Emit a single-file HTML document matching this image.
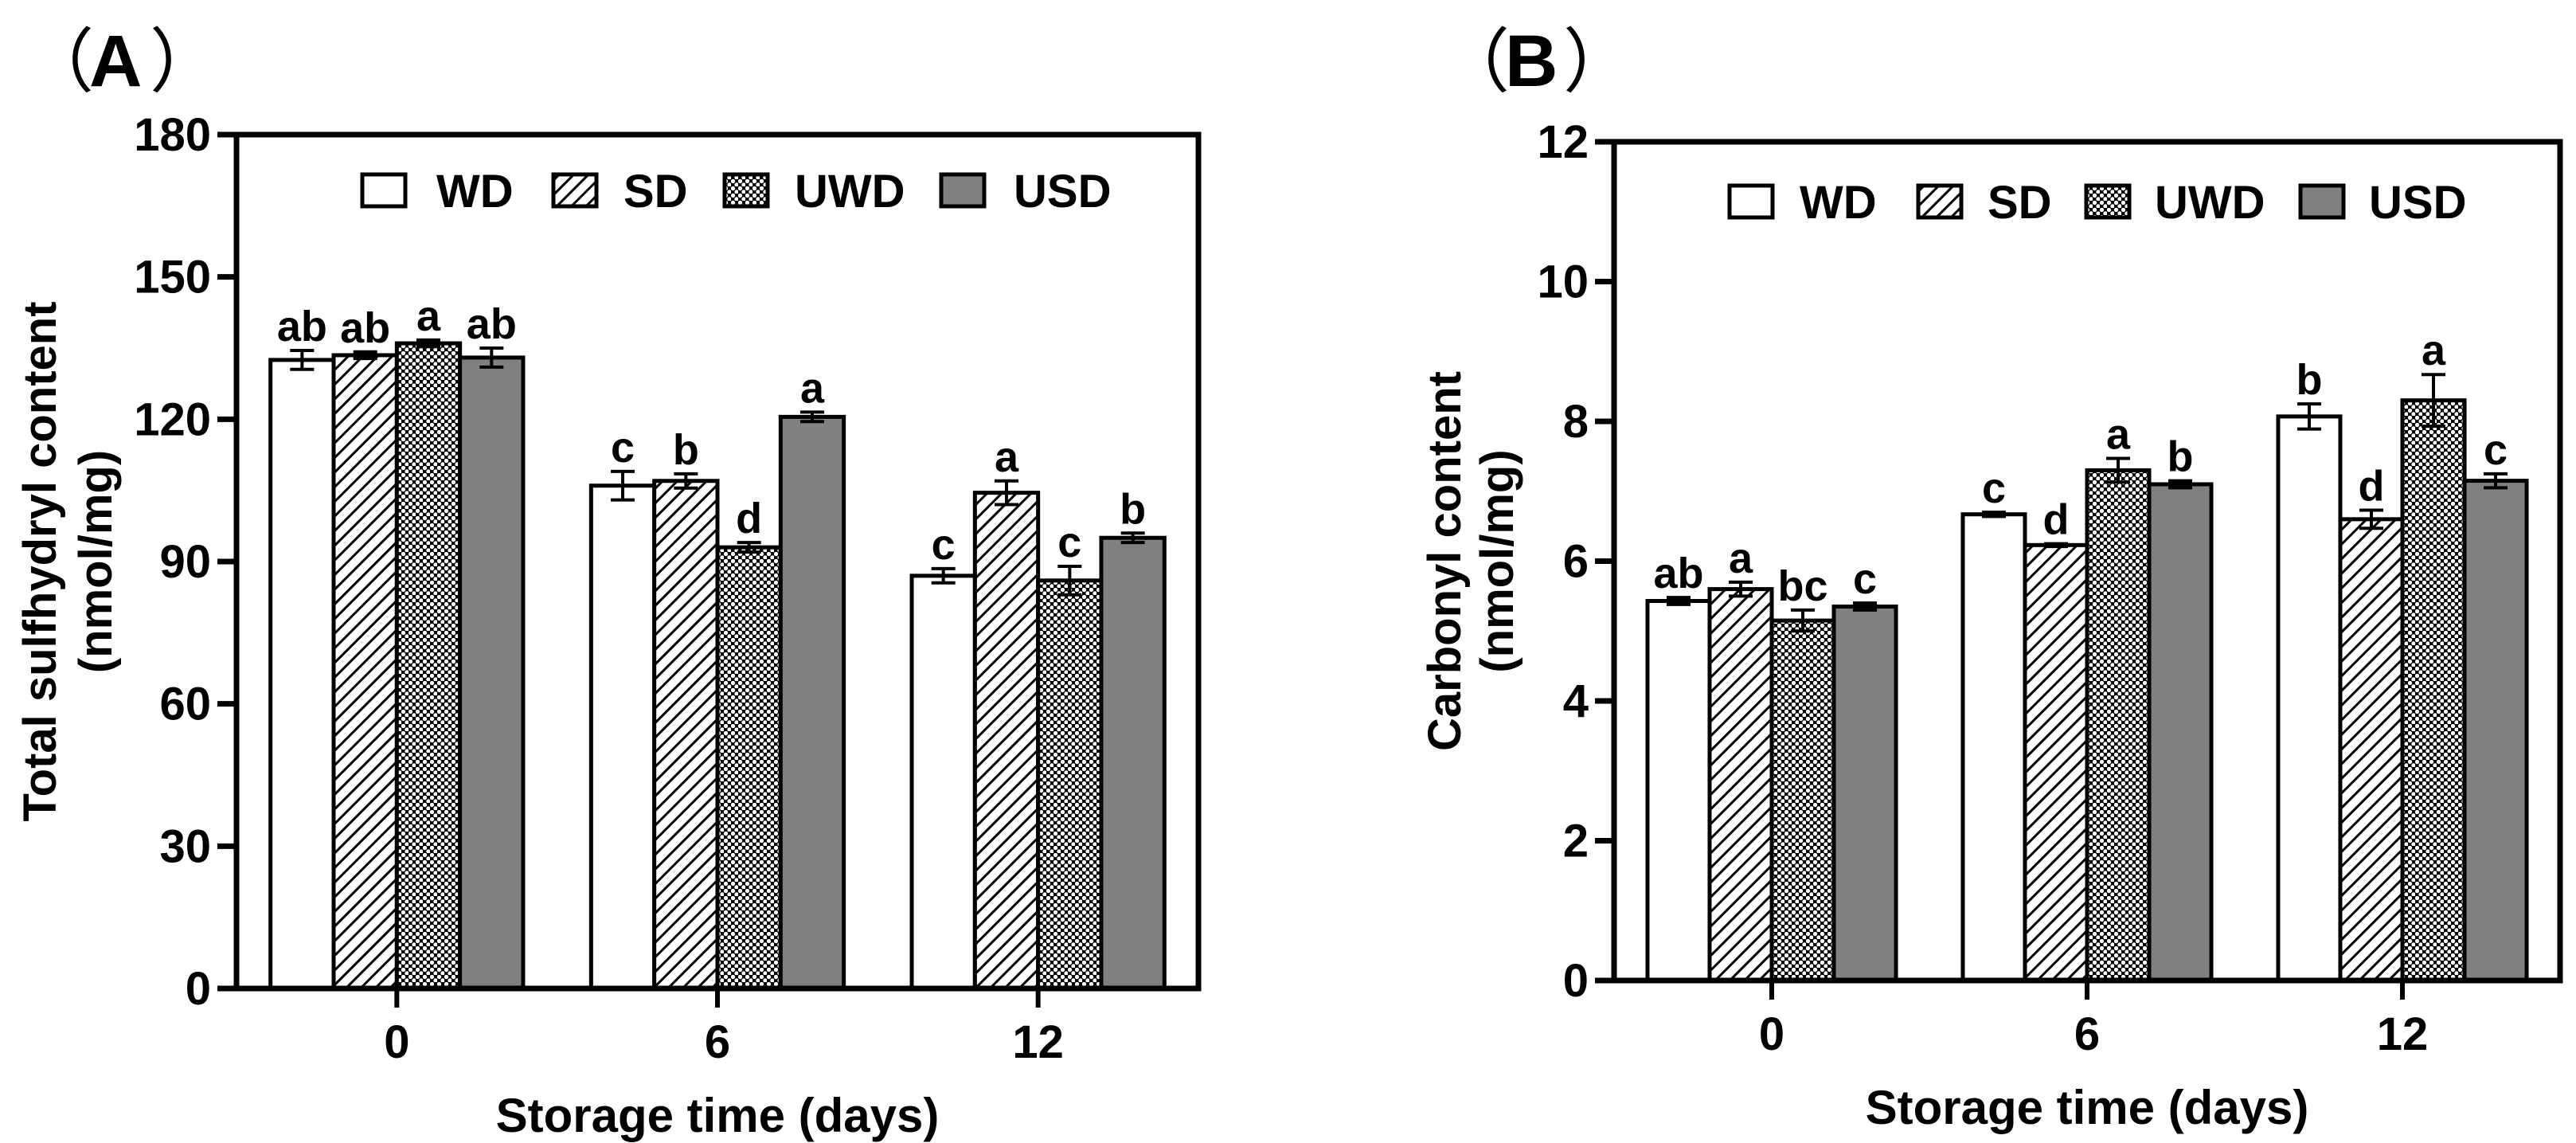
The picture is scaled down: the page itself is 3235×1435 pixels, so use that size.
<!DOCTYPE html>
<html><head><meta charset="utf-8"><style>
html,body{margin:0;padding:0;background:#fff;}
svg{display:block;}
text{font-family:"Liberation Sans",Arial,sans-serif;font-weight:bold;fill:#000;}
</style></head><body>
<svg id="fig" width="3235" height="1435" viewBox="0 0 3235 1435" xmlns="http://www.w3.org/2000/svg">
<defs>
<pattern id="hatch" patternUnits="userSpaceOnUse" width="13" height="13" patternTransform="rotate(45)">
<rect width="13" height="13" fill="#fff"/><rect x="0" y="0" width="3" height="13" fill="#000"/>
</pattern>
<pattern id="dots" patternUnits="userSpaceOnUse" width="9" height="9">
<rect width="9" height="9" fill="#000"/><circle cx="2.5" cy="2.5" r="2.7" fill="#fff"/><circle cx="7" cy="7" r="2.7" fill="#fff"/>
</pattern>
</defs>
<text x="30" y="108" font-size="88" style="font-weight:normal" font-family="Noto Sans CJK SC">（</text>
<text x="112" y="108" font-size="92">A</text>
<text x="188" y="108" font-size="88" style="font-weight:normal" font-family="Noto Sans CJK SC">）</text>
<text x="1808" y="108" font-size="88" style="font-weight:normal" font-family="Noto Sans CJK SC">（</text>
<text x="1890" y="108" font-size="92">B</text>
<text x="1963" y="108" font-size="88" style="font-weight:normal" font-family="Noto Sans CJK SC">）</text>
<g id="pa"></g>
<g id="pb"></g>
</svg>
<script>
const categories = ["0","6","12"];
const seriesNames = ["WD","SD","UWD","USD"];
const aTicks = [0,30,60,90,120,150,180];
const aWD = [132.5,106,87];
const aSD = [133.5,107,104.5];
const aUWD = [136,93,86];
const aUSD = [133,120.5,95];
const aErrWD = [2,3,1.5];
const aErrSD = [0.7,1.5,2.5];
const aErrUWD = [0.7,1,3];
const aErrUSD = [2,1,1];
const aLetWD = ["ab","c","c"];
const aLetSD = ["ab","b","a"];
const aLetUWD = ["a","d","c"];
const aLetUSD = ["ab","a","b"];
const bTicks = [0,2,4,6,8,10,12];
const bWD = [5.43,6.67,8.07];
const bSD = [5.6,6.23,6.6];
const bUWD = [5.15,7.3,8.3];
const bUSD = [5.35,7.1,7.15];
const bErrWD = [0.05,0.03,0.18];
const bErrSD = [0.1,0.02,0.13];
const bErrUWD = [0.15,0.17,0.37];
const bErrUSD = [0.05,0.05,0.1];
const bLetWD = ["ab","c","b"];
const bLetSD = ["a","d","d"];
const bLetUWD = ["bc","a","a"];
const bLetUSD = ["c","b","c"];

const NS="http://www.w3.org/2000/svg";
const fills=["#fff","url(#hatch)","url(#dots)","#808080"];
function mk(tag,attrs,parent){const e=document.createElementNS(NS,tag);for(const k in attrs)e.setAttribute(k,attrs[k]);parent.appendChild(e);return e;}

function draw(g,cfg){
  const {L,R,T,B,max,ticks,vals,errs,lets,title1,title2,t1x,t2x,legBoxes,legTexts,legY}=cfg;
  const y=v=>B-(v/max)*(B-T);
  const cw=(R-L)/categories.length;
  const x=i=>L+cw*(i+0.5);
  const bw=cw*0.197;
  for(let s=0;s<4;s++){
    for(let i=0;i<categories.length;i++){
      const v=vals[s][i];
      const bx=x(i)-2*bw+s*bw;
      const r=mk('rect',{x:bx,y:y(v),width:bw,height:B-y(v),fill:fills[s],stroke:'#000','stroke-width':5},g);
      
      
      const cx=bx+bw/2, e=errs[s][i];
      const eb=mk('path',{d:`M${cx},${y(v-e)}V${y(v+e)}M${cx-15},${y(v+e)}H${cx+15}M${cx-15},${y(v-e)}H${cx+15}`,stroke:'#000','stroke-width':4,fill:'none'},g);
      
      
      const t=mk('text',{x:cx,y:y(v+e)-12,'font-size':54,'text-anchor':'middle'},g);
      t.textContent=lets[s][i];
      
      
    }
  }
  const fr=mk('rect',{x:L,y:T,width:R-L,height:B-T,fill:'none',stroke:'#000','stroke-width':7},g);
  
  
  ticks.forEach(tv=>{
    mk('line',{x1:L-24,x2:L,y1:y(tv),y2:y(tv),stroke:'#000','stroke-width':7},g);
    const t=mk('text',{x:L-32,y:y(tv)+20,'font-size':58,'text-anchor':'end'},g);
    t.textContent=tv;
    
    
  });
  categories.forEach((c,i)=>{
    mk('line',{x1:x(i),x2:x(i),y1:B,y2:B+24,stroke:'#000','stroke-width':6},g);
    const t=mk('text',{x:x(i),y:B+87,'font-size':58,'text-anchor':'middle'},g);
    t.textContent=c;
    
    
  });
  const xt=mk('text',{x:(L+R)/2,y:B+180,'font-size':60,'text-anchor':'middle'},g);
  xt.textContent='Storage time (days)';
  
  
  const cy=(T+B)/2;
  const y1=mk('text',{x:t1x,y:cy,'font-size':58,'text-anchor':'middle',transform:`rotate(-90 ${t1x} ${cy})`},g);
  y1.textContent=title1;
  
  
  const y2=mk('text',{x:t2x,y:cy,'font-size':58,'text-anchor':'middle',transform:`rotate(-90 ${t2x} ${cy})`},g);
  y2.textContent=title2;
  
  
  for(let s=0;s<4;s++){
    const lb=mk('rect',{x:legBoxes[s],y:legY-20,width:54,height:40,fill:fills[s],stroke:'#000','stroke-width':5},g);
    
    
    const lt=mk('text',{x:legTexts[s],y:legY+21,'font-size':58},g);
    lt.textContent=seriesNames[s];
    
    
  }
}
draw(document.getElementById('pa'),{L:297,R:1505,T:169,B:1241,max:180,ticks:aTicks,
  vals:[aWD,aSD,aUWD,aUSD],errs:[aErrWD,aErrSD,aErrUWD,aErrUSD],lets:[aLetWD,aLetSD,aLetUWD,aLetUSD],
  title1:'Total sulfhydryl content',title2:'(nmol/mg)',t1x:70,t2x:140,
  legBoxes:[455,695,910,1182],legTexts:[548,783,998,1273],legY:239});
draw(document.getElementById('pb'),{L:2027,R:3215,T:178,B:1231,max:12,ticks:bTicks,
  vals:[bWD,bSD,bUWD,bUSD],errs:[bErrWD,bErrSD,bErrUWD,bErrUSD],lets:[bLetWD,bLetSD,bLetUWD,bLetUSD],
  title1:'Carbonyl content',title2:'(nmol/mg)',t1x:1834,t2x:1900,
  legBoxes:[2172,2409,2620,2889],legTexts:[2260,2496,2706,2975],legY:253});
</script>
</body></html>
